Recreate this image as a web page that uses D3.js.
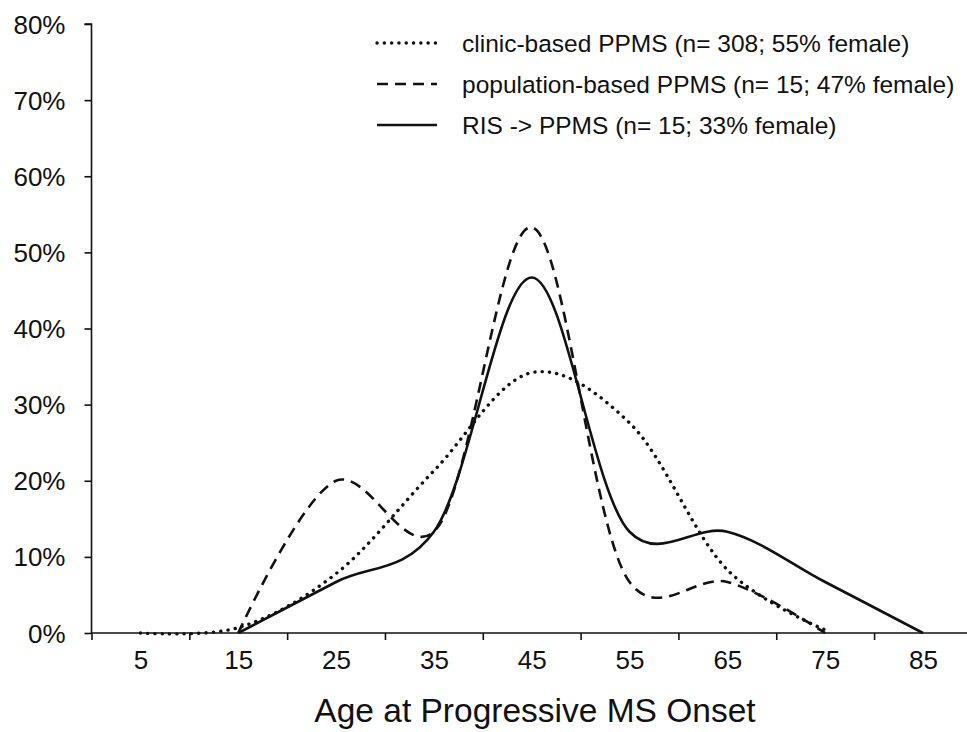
<!DOCTYPE html>
<html>
<head>
<meta charset="utf-8">
<script src="https://cdn.jsdelivr.net/npm/d3@7"></script>
<style>
  body { margin: 0; background: #fff; }
  svg { display: block; }
  text { font-family: Arial, "Liberation Sans", sans-serif; fill: #111; }
</style>
</head>
<body>
<svg id="chart" width="967" height="732"></svg>
<script>
// ---- data (percent of patients per 10-year age bin, plotted at bin midpoints) ----
const ages = [5, 15, 25, 35, 45, 55, 65, 75, 85];
const clinicPPMS = [0, 0.7, 7.8, 21.3, 34.2, 27.6, 8.3, 0.4, null];
const populationPPMS = [null, 0, 20.0, 13.3, 53.3, 6.7, 6.7, 0, null];
const risPPMS = [null, 0, 6.7, 13.3, 46.7, 13.3, 13.3, 6.7, 0];
const yTicks = [0, 10, 20, 30, 40, 50, 60, 70, 80];
const xTickMarks = [0, 10, 20, 30, 40, 50, 60, 70, 80];
const xTickLabels = [5, 15, 25, 35, 45, 55, 65, 75, 85];
const legendLabels = [
  "clinic-based PPMS (n= 308; 55% female)",
  "population-based PPMS (n= 15; 47% female)",
  "RIS -> PPMS (n= 15; 33% female)"
];
const xTitle = "Age at Progressive MS Onset";

const svg = d3.select("#chart");
const x = d3.scaleLinear().domain([0, 89.5]).range([91.5, 967]);
const y = d3.scaleLinear().domain([0, 80]).range([633, 24]);

// y axis
const yAxis = svg.append("g").attr("transform", "translate(91.5,0)")
  .call(d3.axisLeft(y).tickValues(yTicks).tickFormat(d => d + "%").tickSize(7).tickPadding(19));
yAxis.select(".domain").attr("stroke", "#111").attr("stroke-width", 1.6).attr("d", `M-7,${y(80)}H0V${y(0)}`);
yAxis.selectAll(".tick line").attr("stroke", "#111").attr("stroke-width", 1.6);
yAxis.selectAll(".tick text").style("font-size", "26px").attr("dy", "0.35em").attr("fill", "#111");

// x axis: tick marks at bin edges
const xAxis = svg.append("g").attr("transform", `translate(0,${y(0)})`)
  .call(d3.axisBottom(x).tickValues(xTickMarks).tickFormat("").tickSize(7));
xAxis.select(".domain").attr("stroke", "#111").attr("stroke-width", 1.6).attr("d", `M${x(0)},0H${x(89.5)}`);
xAxis.selectAll(".tick line").attr("stroke", "#111").attr("stroke-width", 1.6);

// x labels at bin centers
const xLab = svg.append("g").attr("transform", `translate(0,${y(0)})`)
  .call(d3.axisBottom(x).tickValues(xTickLabels).tickFormat(d => d).tickSize(0).tickPadding(18));
xLab.select(".domain").remove();
xLab.selectAll(".tick text").style("font-size", "26px").attr("fill", "#111");

// x title
svg.append("text").attr("x", 535).attr("y", 722).attr("text-anchor", "middle")
  .style("font-size", "33.5px").text(xTitle);

// lines
const line = d3.line()
  .defined(d => d[1] !== null)
  .x(d => x(d[0])).y(d => y(d[1]))
  .curve(d3.curveCatmullRom.alpha(0.2));

const series = [
  { vals: clinicPPMS, dash: "0.1,7.2", width: 3.4, cap: "round" },
  { vals: populationPPMS, dash: "11,7", width: 2.6, cap: "butt" },
  { vals: risPPMS, dash: null, width: 2.6, cap: "butt" }
];
series.forEach(s => {
  svg.append("path")
    .datum(ages.map((a, i) => [a, s.vals[i]]))
    .attr("d", line)
    .attr("fill", "none").attr("stroke", "#111")
    .attr("stroke-width", s.width)
    .attr("stroke-linecap", s.cap)
    .attr("stroke-dasharray", s.dash);
});

// legend
const leg = svg.append("g");
series.forEach((s, i) => {
  const yy = [43, 84, 125][i];
  leg.append("line").attr("x1", 377).attr("x2", 437).attr("y1", yy).attr("y2", yy)
    .attr("stroke", "#111").attr("stroke-width", s.width)
    .attr("stroke-linecap", s.cap).attr("stroke-dasharray", s.dash);
  leg.append("text").attr("x", 462).attr("y", yy).attr("dy", "0.35em")
    .style("font-size", "24.5px").text(legendLabels[i]);
});
</script>
</body>
</html>
